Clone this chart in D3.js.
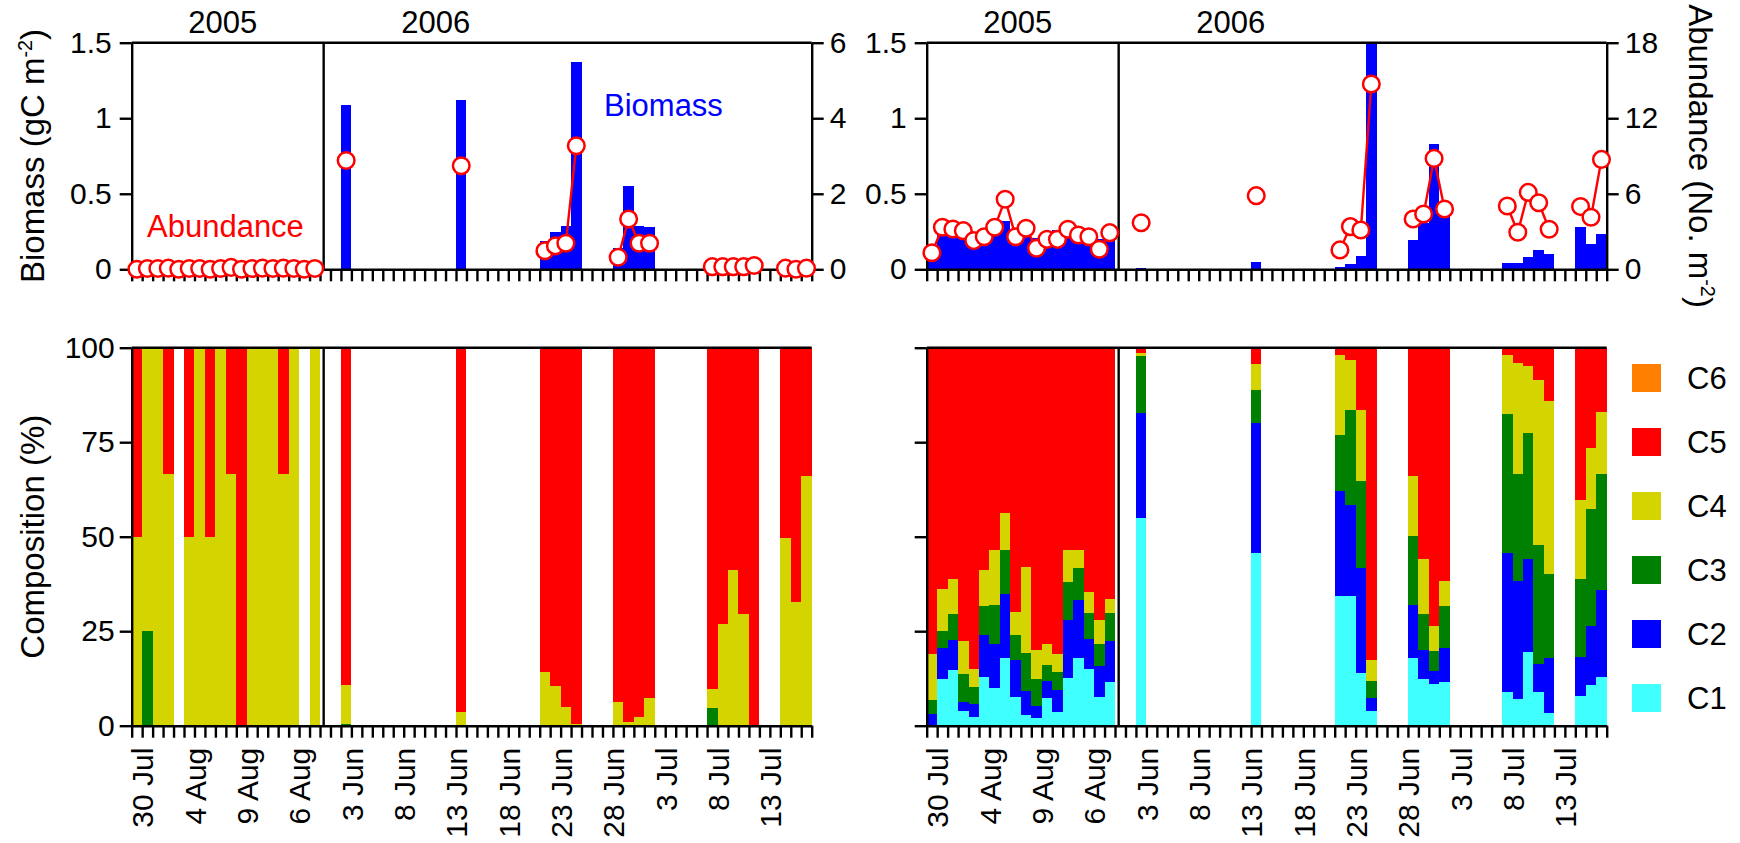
<!DOCTYPE html>
<html>
<head>
<meta charset="utf-8">
<title>Biomass, abundance and stage composition</title>
<style>
  body { margin: 0; background: #fff; }
  svg { display: block; font-family: "Liberation Sans", Arial, sans-serif; }
  rect { shape-rendering: crispEdges; }
</style>
<script src="https://d3js.org/d3.v7.min.js"></script>
</head>
<body>
<svg width="1740" height="843"></svg>
<script>
// position (slot) of every sampling date on the x axis: 65 slots, 66 ticks
const slots = [0,1,2,3,4,5,6,7,8,9,10,11,12,13,14,15,16,17,
               20,31,39,40,41,42,46,47,48,49,55,56,57,58,59,62,63,64];
const tickLabels = ["30 Jul","4 Aug","9 Aug","6 Aug","3 Jun","8 Jun","13 Jun","18 Jun","23 Jun","28 Jun","3 Jul","8 Jul","13 Jul"];
const tickLabelSlots = [1,6,11,16,21,26,31,36,41,46,51,56,61];
const years = ["2005","2006"];
const stages = ["C1","C2","C3","C4","C5","C6"];
const stageColors = ["#40ffff","#0000ff","#008000","#d4d400","#ff0000","#ff8000"];

// left panels
const bioLeft = [0,0,0,0,0,0,0,0,0,0,0,0,0,0,0,0,0,0,
                 1.09,1.12,0.187,0.245,0.287,1.374,0.139,0.553,0.289,0.278,0,0,0,0,0,0,0,0];
const abuLeft = [0,0.02,0.02,0.03,0,0.02,0.02,0,0.02,0.05,0,0.02,0.03,0.02,0.03,0.02,0,0.02,
                 2.88,2.74,0.49,0.62,0.69,3.27,0.32,1.33,0.69,0.69,0.07,0.07,0.07,0.07,0.1,0.03,0,0.03];
const leftC1 = [0,0,0,0,0,0,0,0,0,0,0,0,0,0,0,0,0,0, 0,0,0,0,0,0,0,0,0,0,0,0,0,0,0,0,0,0];
const leftC2 = [0,0,0,0,0,0,0,0,0,0,0,0,0,0,0,0,0,0, 0,0,0,0,0,0,0,0,0,0,0,0,0,0,0,0,0,0];
const leftC3 = [0,25,0,0,0,0,0,0,0,0,0,0,0,0,0,0,0,0, 0.5,0,0,0,0,0,0,0,0,0,4.6,0,0,0,0,0,0,0];
const leftC4 = [50,75,100,66.7,0,50,100,50,100,66.7,0,100,100,100,66.7,100,0,100,
                10.3,3.7,14.3,10.6,4.9,0.5,6.3,0.9,2.4,7.4,5.0,26.9,41.2,29.5,0,49.6,32.8,66.1];
const leftC5 = [50,0,0,33.3,0,50,0,50,0,33.3,100,0,0,0,33.3,0,0,0,
                89.2,96.3,85.7,89.4,95.1,99.5,93.7,99.1,97.6,92.6,90.4,73.1,58.8,70.5,100,50.4,67.2,33.9];
const leftC6 = [0,0,0,0,0,0,0,0,0,0,0,0,0,0,0,0,0,0, 0,0,0,0,0,0,0,0,0,0,0,0,0,0,0,0,0,0];

// right panels
const bioRight = [0.08,0.24,0.24,0.24,0.21,0.21,0.26,0.32,0.24,0.24,0.21,0.24,0.26,0.26,0.24,0.24,0.2,0.24,
                  0.011,0.046,0.013,0.033,0.088,1.6,0.194,0.309,0.829,0.40,0.044,0.044,0.079,0.128,0.101,0.282,0.165,0.234];
const abuRight = [1.32,3.34,3.2,3.07,2.28,2.59,3.34,5.56,2.59,3.26,1.67,2.38,2.38,3.18,2.73,2.59,1.59,2.91,
                  3.7,5.85,1.54,3.39,3.12,14.72,4.0,4.39,8.81,4.79,5.03,2.94,6.11,5.29,3.18,4.98,4.13,8.73];
const rightC1 = [0.3,12.3,14.7,4.0,2.4,13.0,9.9,17.8,7.7,2.9,2.0,7.2,3.5,12.6,18.0,15.1,7.5,11.6,
                 55.0,45.6,34.2,34.2,13.9,3.8,17.9,12.4,11.1,11.5,8.8,7.1,19.6,8.9,3.3,7.8,10.8,12.9];
const rightC2 = [2.8,8.2,8.0,2.2,3.3,11.0,11.8,17.1,9.7,6.2,3.3,4.7,5.9,15.3,15.2,7.8,8.2,10.8,
                 27.7,34.6,27.9,24.2,27.8,3.5,13.9,7.5,3.4,9.0,36.8,31.2,24.5,7.4,14.6,10.5,15.7,23.0];
const rightC3 = [3.8,4.6,6.9,7.4,4.6,7.7,10.2,11.6,6.6,10.1,7.0,4.2,4.7,10.2,8.4,7.0,5.8,7.5,
                 15.1,8.5,14.8,25.1,23.1,4.6,18.5,9.6,5.3,11.2,36.9,28.3,33.4,31.5,22.2,20.5,30.8,30.6];
const rightC4 = [12.2,11.0,9.3,8.8,4.8,9.4,14.6,9.8,6.1,22.8,7.7,5.6,4.8,8.4,5.0,5.5,6.4,3.7,
                 0.9,7.0,21.3,13.2,18.7,5.4,15.8,14.6,6.6,6.6,15.7,29.3,17.7,43.6,45.9,20.9,16.1,16.4];
const rightC5 = [80.9,63.9,61.1,77.6,84.9,58.9,53.5,43.7,69.9,58.0,80.0,78.3,81.1,53.5,53.4,64.6,72.1,66.4,
                 1.3,4.3,1.8,3.3,16.5,82.7,33.9,55.9,73.6,61.7,1.8,4.1,4.8,8.6,14.0,40.3,26.6,17.1];
const rightC6 = [0,0,0,0,0,0,0,0,0,0,0,0,0,0,0,0,0,0, 0,0,0,0,0,0,0,0,0,0,0,0,0,0,0,0,0,0];

const svg = d3.select("svg");
const FS = 30;      // tick labels
const TFS = 33;     // axis titles
const nSlots = 65;
const panelW = 680;
const topY0 = 42.7, topY1 = 269.3;
const botY0 = 347.7, botY1 = 725.7;
const yearBreak = 18.35;

const yBio = d3.scaleLinear([0, 1.5], [topY1, topY0]).clamp(true);
const yComp = d3.scaleLinear([0, 100], [botY1, botY0]);

const panels = [
  { x0: 131.7, bio: bioLeft, abu: abuLeft, abuMax: 6, abuTicks: [0,2,4,6],
    comp: [leftC1, leftC2, leftC3, leftC4, leftC5, leftC6], compLabels: true },
  { x0: 926.7, bio: bioRight, abu: abuRight, abuMax: 18, abuTicks: [0,6,12,18],
    comp: [rightC1, rightC2, rightC3, rightC4, rightC5, rightC6], compLabels: false }
];

function styleAxis(g) {
  g.selectAll("path, line").attr("stroke", "#000").attr("stroke-width", 2.4);
  g.selectAll("text").attr("font-size", FS).attr("fill", "#000").attr("font-family", null);
}

panels.forEach(p => {
  const x = d3.scaleLinear([0, nSlots], [p.x0, p.x0 + panelW]);
  const yAbu = d3.scaleLinear([0, p.abuMax], [topY1, topY0]);
  const g = svg.append("g");

  // biomass bars
  g.selectAll("rect.bio")
    .data(slots.map((s, i) => ({ s, v: p.bio[i] })).filter(d => d.v > 0))
    .join("rect")
    .attr("x", d => x(d.s))
    .attr("width", d => x(d.s + 1) - x(d.s))
    .attr("y", d => yBio(d.v))
    .attr("height", d => topY1 - yBio(d.v))
    .attr("fill", "#0000ff");

  // stage composition
  const rows = slots.map((s, i) => {
    const r = { s };
    stages.forEach((st, k) => r[st] = p.comp[k][i]);
    return r;
  });
  const layers = d3.stack().keys(stages)(rows);
  layers.forEach((layer, k) => {
    g.append("g").selectAll("rect")
      .data(layer.filter(d => d[1] - d[0] > 0))
      .join("rect")
      .attr("x", d => x(d.data.s))
      .attr("width", d => x(d.data.s + 1) - x(d.data.s))
      .attr("y", d => yComp(d[1]))
      .attr("height", d => yComp(d[0]) - yComp(d[1]))
      .attr("fill", stageColors[k]);
  });

  // top panel frame + axes
  g.append("line").attr("x1", p.x0).attr("x2", p.x0 + panelW)
    .attr("y1", topY0).attr("y2", topY0).attr("stroke", "#000").attr("stroke-width", 2.4);
  g.append("g").attr("transform", `translate(0,${topY1})`)
    .call(d3.axisBottom(x).tickValues(d3.range(nSlots + 1)).tickFormat("").tickSize(12).tickSizeOuter(0))
    .call(styleAxis);
  g.append("g").attr("transform", `translate(${p.x0},0)`)
    .call(d3.axisLeft(yBio).tickValues([0, 0.5, 1, 1.5]).tickFormat(d3.format("~g")).tickSize(12).tickPadding(8).tickSizeOuter(0))
    .call(styleAxis);
  g.append("g").attr("transform", `translate(${p.x0 + panelW},0)`)
    .call(d3.axisRight(yAbu).tickValues(p.abuTicks).tickFormat(d3.format("d")).tickSize(12).tickPadding(6).tickSizeOuter(0))
    .call(styleAxis);

  // bottom panel frame + axes
  g.append("line").attr("x1", p.x0).attr("x2", p.x0 + panelW)
    .attr("y1", botY0).attr("y2", botY0).attr("stroke", "#000").attr("stroke-width", 2.4);
  g.append("g").attr("transform", `translate(0,${botY1})`)
    .call(d3.axisBottom(x).tickValues(d3.range(nSlots + 1))
      .tickFormat(i => { const k = tickLabelSlots.indexOf(i); return k < 0 ? "" : tickLabels[k]; })
      .tickSize(12).tickSizeOuter(0))
    .call(styleAxis)
    .call(a => a.selectAll("text")
      .attr("transform", "rotate(-90)")
      .attr("x", -22).attr("y", 0).attr("dy", "0.36em")
      .attr("text-anchor", "end"));
  g.append("g").attr("transform", `translate(${p.x0},0)`)
    .call(d3.axisLeft(yComp).tickValues([0, 25, 50, 75, 100])
      .tickFormat(p.compLabels ? d3.format("d") : "").tickSize(12).tickPadding(5).tickSizeOuter(0))
    .call(styleAxis);

  // year break
  [[topY0, topY1], [botY0, botY1]].forEach(([a, b]) => {
    g.append("line").attr("x1", x(yearBreak)).attr("x2", x(yearBreak))
      .attr("y1", a).attr("y2", b).attr("stroke", "#000").attr("stroke-width", 2.4);
  });
  g.selectAll("text.year").data(years).join("text")
    .attr("x", (d, i) => p.x0 + (i === 0 ? 91 : 304))
    .attr("y", 33).attr("text-anchor", "middle").attr("font-size", 31).text(d => d);

  // abundance: line joins only consecutive slots
  const pts = slots.map((s, i) => ({ s, v: p.abu[i] }));
  const groups = [];
  pts.forEach((d, i) => {
    if (i === 0 || d.s - pts[i - 1].s > 1) groups.push([]);
    groups[groups.length - 1].push(d);
  });
  const line = d3.line().x(d => x(d.s + 0.5)).y(d => yAbu(d.v));
  g.selectAll("path.abu").data(groups.filter(gr => gr.length > 1)).join("path")
    .attr("d", line).attr("fill", "none").attr("stroke", "#ff0000").attr("stroke-width", 2.4);
  g.selectAll("circle").data(pts).join("circle")
    .attr("cx", d => x(d.s + 0.5)).attr("cy", d => yAbu(d.v)).attr("r", 8.3)
    .attr("fill", "#fff").attr("stroke", "#ff0000").attr("stroke-width", 2.5);
});

// annotations
svg.append("text").attr("x", 147).attr("y", 237).attr("font-size", 31).attr("fill", "#ff0000").text("Abundance");
svg.append("text").attr("x", 604).attr("y", 116).attr("font-size", 31).attr("fill", "#0000ff").text("Biomass");

const yt1 = svg.append("text").attr("transform", `translate(44,${(topY0 + topY1) / 2}) rotate(-90)`)
  .attr("text-anchor", "middle").attr("font-size", TFS);
yt1.append("tspan").text("Biomass (gC m");
yt1.append("tspan").attr("font-size", TFS * 0.6).attr("dy", -12).text("-2");
yt1.append("tspan").attr("dy", 12).text(")");

svg.append("text").attr("transform", `translate(44,${(botY0 + botY1) / 2}) rotate(-90)`)
  .attr("text-anchor", "middle").attr("font-size", TFS).text("Composition (%)");

const yt2 = svg.append("text").attr("transform", `translate(1689,${(topY0 + topY1) / 2}) rotate(90)`)
  .attr("text-anchor", "middle").attr("font-size", TFS);
yt2.append("tspan").text("Abundance (No. m");
yt2.append("tspan").attr("font-size", TFS * 0.6).attr("dy", -12).text("-2");
yt2.append("tspan").attr("dy", 12).text(")");

// legend, C6 on top
const leg = svg.append("g").selectAll("g").data(stages.slice().reverse()).join("g")
  .attr("transform", (d, i) => `translate(1632,${378 + i * 64})`);
leg.append("rect").attr("x", 0).attr("y", -14.3).attr("width", 28.7).attr("height", 28.7)
  .attr("fill", d => stageColors[stages.indexOf(d)]);
leg.append("text").attr("x", 55).attr("y", 11).attr("font-size", 31).text(d => d);
</script>
</body>
</html>
